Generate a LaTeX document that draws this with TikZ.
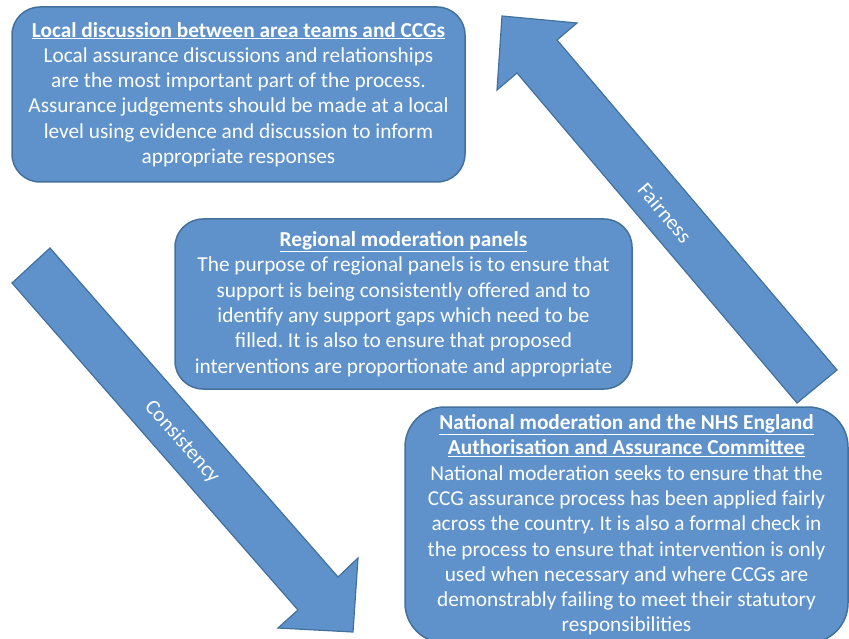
\documentclass[tikz,border=0pt]{standalone}
\usepackage{fontspec}
\setmainfont{Carlito}
\usetikzlibrary{shapes}
\frenchspacing

\definecolor{panelblue}{RGB}{95,146,202}
\definecolor{paneledge}{RGB}{65,113,156}

\tikzset{
  panel/.style={draw=paneledge, line width=1.5pt, fill=panelblue, text=white,
    align=center, inner sep=0pt, font=\fontsize{21.3}{25.3}\selectfont},
  flow/.style={draw=paneledge, line width=1.2pt, fill=panelblue, line join=miter},
  flowlabel/.style={text=white, font=\fontsize{21.3}{25}\selectfont}
}

\begin{document}
\begin{tikzpicture}[x=1pt,y=-1pt]
    \useasboundingbox (0,0) rectangle (849,639);
    \clip (0,0) rectangle (849,639);
    % the two block arrows
    \filldraw[flow] (837,370) -- (557,40) -- (577,23) -- (502,16) -- (497,90) -- (517,73) -- (797,403) -- cycle;
    \node[flowlabel, rotate=-49.6] (fair) at (665,213) {Fairness};
    \filldraw[flow] (50,248) -- (338,577) -- (358,558) -- (353,632) -- (278,628) -- (298,610) -- (12,283) -- cycle;
    \node[flowlabel, rotate=-48.7] (cons) at (182,442) {Consistency};
    % panels
    \node[panel, rounded corners=28pt, minimum width=453pt, minimum height=175pt] (local) at (238.5,94.5)
      {\underline{\textbf{Local discussion between area teams and CCGs}}\\
       Local assurance discussions and relationships\\
       are the most important part of the process.\\
       Assurance judgements should be made at a local\\
       level using evidence and discussion to inform\\
       appropriate responses};
    \node[panel, rounded corners=28pt, minimum width=457pt, minimum height=170pt] (regional) at (403.5,304)
      {\underline{\textbf{Regional moderation panels}}\\
       The purpose of regional panels is to ensure that\\
       support is being consistently offered and to\\
       identify any support gaps which need to be\\
       filled. It is also to ensure that proposed\\
       interventions are proportionate and appropriate};
    \node[panel, rounded corners=40pt, minimum width=443pt, minimum height=236pt] (national) at (626.5,525)
      {\underline{\textbf{National moderation and the NHS England}}\\
       \underline{\textbf{Authorisation and Assurance Committee}}\\
       National moderation seeks to ensure that the\\
       CCG assurance process has been applied fairly\\
       across the country. It is also a formal check in\\
       the process to ensure that intervention is only\\
       used when necessary and where CCGs are\\
       demonstrably failing to meet their statutory\\
       responsibilities};
\end{tikzpicture}
\end{document}
